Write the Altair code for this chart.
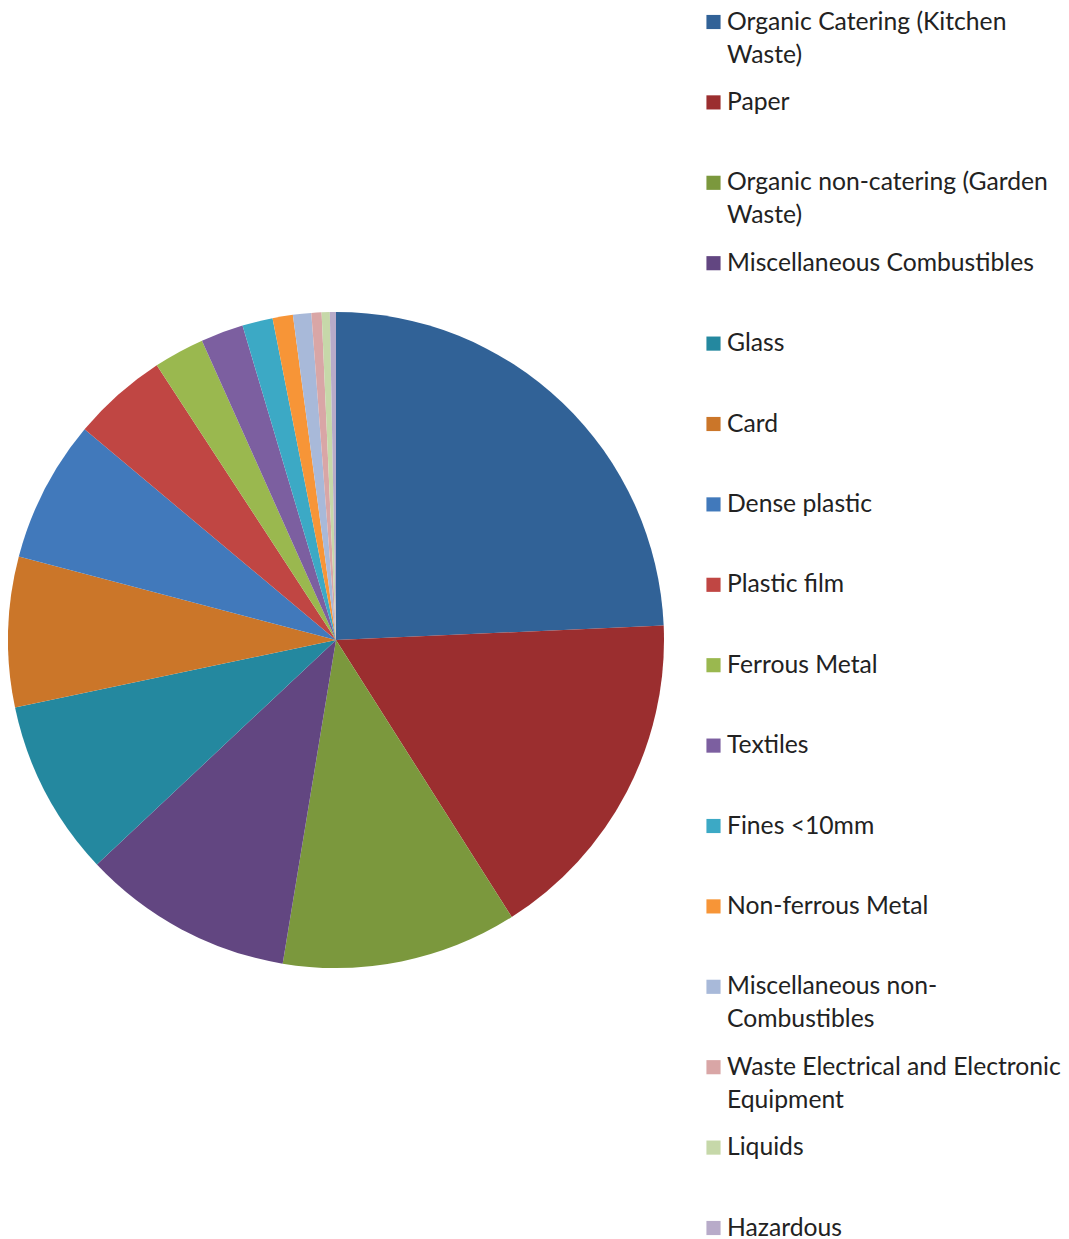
import altair as alt
import pandas as pd

categories = [
    "Organic Catering (Kitchen Waste)", "Paper", "Organic non-catering (Garden Waste)",
    "Miscellaneous Combustibles", "Glass", "Card", "Dense plastic", "Plastic film",
    "Ferrous Metal", "Textiles", "Fines <10mm", "Non-ferrous Metal",
    "Miscellaneous non-Combustibles", "Waste Electrical and Electronic Equipment",
    "Liquids", "Hazardous",
]
shares = [24.3, 16.7, 11.6, 10.4, 8.7, 7.4, 7.0, 4.7, 2.5, 2.1, 1.5, 1.0, 0.9, 0.5, 0.4, 0.3]
colors = [
    "#316297", "#9B2E2F", "#7B983D", "#624681", "#24889F", "#CB7629", "#4179BB", "#C04643",
    "#9AB84F", "#7C5FA0", "#3CA9C5", "#F79537", "#A8B9D9", "#D9A6A6", "#C6D8A9", "#B8ABC9",
]
label_line1 = [
    "Organic Catering (Kitchen", "Paper", "Organic non-catering (Garden",
    "Miscellaneous Combustibles", "Glass", "Card", "Dense plastic", "Plastic film",
    "Ferrous Metal", "Textiles", "Fines <10mm", "Non-ferrous Metal",
    "Miscellaneous non-", "Waste Electrical and Electronic", "Liquids", "Hazardous",
]
label_line2 = ["Waste)", "", "Waste)", "", "", "", "", "", "", "", "", "",
               "Combustibles", "Equipment", "", ""]

df = pd.DataFrame({
    "category": categories,
    "share": shares,
    "idx": list(range(len(categories))),
    "line1": label_line1,
    "line2": label_line2,
})

color_scale = alt.Scale(domain=categories, range=colors)

pie = alt.Chart(df).mark_arc(radius=328, stroke=None).encode(
    theta=alt.Theta("share:Q", stack=True),
    order=alt.Order("idx:Q"),
    color=alt.Color("category:N", scale=color_scale, legend=None),
    x=alt.value(328),
    y=alt.value(632),
).properties(width=656, height=1224)

yenc = alt.Y("idx:Q", scale=alt.Scale(domain=[0, 15], range=[14, 1220], nice=False, zero=False), axis=None)

squares = alt.Chart(df).mark_square(size=200, opacity=1, filled=True).encode(
    x=alt.value(15.5),
    y=yenc,
    color=alt.Color("category:N", scale=color_scale, legend=None),
)
text1 = alt.Chart(df).mark_text(align="left", baseline="alphabetic", dy=7.5, font="Lato",
                                fontSize=24.7, color="#222222").encode(
    x=alt.value(29), y=yenc, text="line1:N")
text2 = alt.Chart(df).mark_text(align="left", baseline="alphabetic", dy=40.5, font="Lato",
                                fontSize=24.7, color="#222222").encode(
    x=alt.value(29), y=yenc, text="line2:N")

legend = alt.layer(squares, text1, text2).properties(width=360, height=1224)

chart = alt.hconcat(pie, legend, spacing=34).properties(padding=0).configure_view(stroke=None)

chart.save("out.html", embed_options={"renderer": "svg", "actions": False})
